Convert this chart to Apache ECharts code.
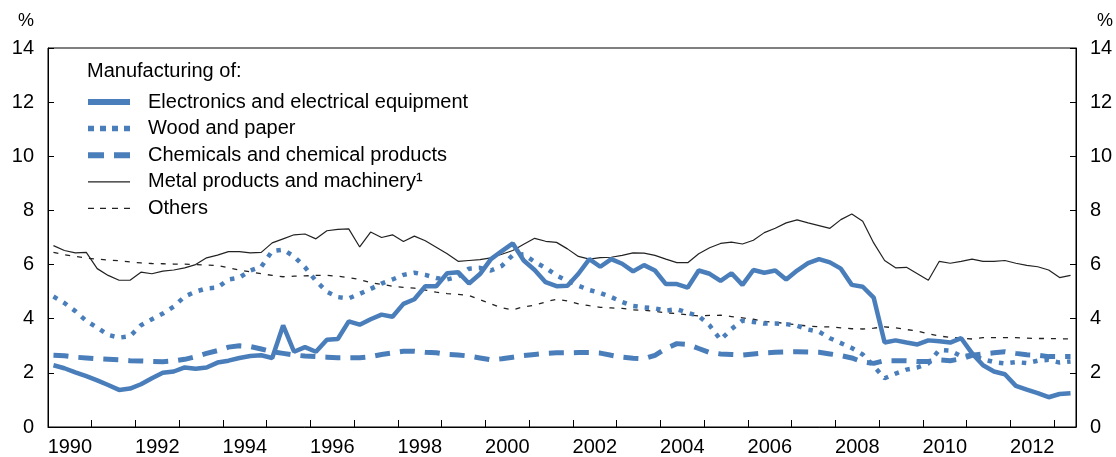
<!DOCTYPE html>
<html><head><meta charset="utf-8">
<script src="https://cdn.jsdelivr.net/npm/echarts@6/dist/echarts.min.js"></script>
<style>html,body{margin:0;padding:0;background:#fff}#chart{width:1116px;height:457px}</style>
</head><body><div id="chart"></div>
<script>
// Quarterly categories 1990Q1 .. 2013Q2
const quarters = [];
for (let y = 1990; y <= 2013; y++) for (let q = 1; q <= 4; q++) if (quarters.length < 94) quarters.push(y + 'Q' + q);

const xTickLabels = ['1990','1992','1994','1996','1998','2000','2002','2004','2006','2008','2010','2012'];
const yTickLabels = ['0','2','4','6','8','10','12','14'];
const seriesNames = ['Electronics and electrical equipment','Wood and paper','Chemicals and chemical products','Metal products and machinery\u00b9','Others'];

const electronics = [2.28,2.17,2.02,1.88,1.72,1.55,1.37,1.42,1.58,1.8,2.0,2.05,2.2,2.15,2.2,2.38,
2.45,2.55,2.62,2.65,2.55,3.75,2.78,2.95,2.78,3.22,3.25,3.9,3.78,3.98,4.15,4.07,
4.55,4.72,5.2,5.2,5.68,5.72,5.3,5.65,6.2,6.5,6.78,6.15,5.8,5.35,5.2,5.22,
5.66,6.2,5.92,6.2,6.03,5.75,5.98,5.78,5.28,5.28,5.15,5.78,5.66,5.4,5.68,5.25,
5.8,5.7,5.78,5.45,5.78,6.05,6.2,6.08,5.85,5.25,5.18,4.78,3.12,3.2,3.12,3.05,
3.2,3.17,3.12,3.28,2.72,2.28,2.05,1.95,1.52,1.38,1.25,1.1,1.22,1.25];

const wood = [4.82,4.58,4.28,3.92,3.67,3.4,3.3,3.35,3.76,3.98,4.19,4.45,4.82,5.0,5.12,5.15,
5.45,5.52,5.78,5.92,6.5,6.55,6.3,5.9,5.4,5.0,4.8,4.75,4.92,5.1,5.3,5.45,
5.62,5.7,5.62,5.5,5.45,5.55,5.85,5.88,5.78,5.95,6.35,6.38,6.1,5.88,5.6,5.4,
5.22,5.06,4.95,4.8,4.62,4.47,4.42,4.38,4.3,4.35,4.22,4.1,3.75,3.22,3.62,3.93,
3.88,3.82,3.82,3.8,3.74,3.6,3.52,3.28,3.1,2.92,2.68,2.25,1.8,1.97,2.12,2.2,
2.35,2.85,2.82,2.62,2.66,2.5,2.4,2.35,2.4,2.36,2.45,2.48,2.38,2.42];

const chemicals = [2.65,2.63,2.58,2.55,2.52,2.5,2.48,2.45,2.44,2.42,2.41,2.44,2.5,2.6,2.72,2.82,
2.95,3.0,2.97,2.88,2.78,2.72,2.66,2.62,2.6,2.58,2.56,2.56,2.56,2.6,2.68,2.74,
2.8,2.8,2.76,2.74,2.68,2.66,2.62,2.55,2.48,2.52,2.58,2.64,2.68,2.72,2.74,2.74,
2.75,2.75,2.73,2.65,2.58,2.54,2.52,2.65,2.9,3.08,3.05,2.9,2.75,2.7,2.68,2.66,
2.7,2.74,2.76,2.77,2.78,2.77,2.76,2.7,2.64,2.55,2.4,2.35,2.45,2.45,2.45,2.42,
2.42,2.48,2.45,2.52,2.65,2.7,2.74,2.78,2.72,2.67,2.65,2.6,2.6,2.6];

const metal = [6.7,6.52,6.43,6.45,5.85,5.6,5.42,5.42,5.72,5.66,5.76,5.8,5.88,6.0,6.25,6.35,
6.48,6.48,6.43,6.45,6.8,6.95,7.1,7.13,6.95,7.25,7.3,7.32,6.65,7.2,7.0,7.1,
6.85,7.05,6.88,6.64,6.4,6.12,6.15,6.18,6.25,6.38,6.52,6.75,6.97,6.86,6.82,6.58,
6.3,6.2,6.26,6.27,6.34,6.43,6.42,6.34,6.2,6.07,6.07,6.4,6.62,6.78,6.83,6.76,
6.9,7.18,7.34,7.54,7.65,7.54,7.44,7.34,7.66,7.87,7.6,6.8,6.15,5.88,5.9,5.66,
5.42,6.12,6.05,6.12,6.2,6.12,6.12,6.15,6.05,5.97,5.92,5.8,5.52,5.6];

const others = [6.45,6.36,6.3,6.24,6.2,6.17,6.14,6.1,6.06,6.04,6.03,6.02,6.02,6.0,5.98,5.97,
5.88,5.8,5.73,5.66,5.6,5.55,5.57,5.58,5.6,5.6,5.57,5.52,5.45,5.33,5.27,5.2,
5.16,5.13,5.06,4.98,4.93,4.9,4.86,4.7,4.55,4.4,4.33,4.44,4.5,4.62,4.72,4.66,
4.55,4.48,4.42,4.4,4.38,4.33,4.31,4.27,4.22,4.19,4.14,4.1,4.12,4.13,4.08,4.03,
3.98,3.9,3.87,3.82,3.77,3.73,3.7,3.7,3.66,3.63,3.62,3.65,3.7,3.66,3.6,3.54,
3.44,3.36,3.31,3.28,3.25,3.3,3.3,3.3,3.3,3.28,3.27,3.27,3.26,3.25];

// position of each quarter on the time axis (middle of the quarter)
const xPos = quarters.map(s => +s.slice(0,4) + (+s.slice(5) - 0.5) / 4);
const pair = arr => arr.map((v, i) => [xPos[i], v]);

const FONT = 'Liberation Sans, Arial, Helvetica, sans-serif';
const BLUE = '#4a7ebb';
const DARK = '#222';

const styles = [
  {color: BLUE, width: 4.5, type: 'solid', lw: 6, ltype: 'solid', z: 5},
  {color: BLUE, width: 4.5, type: [4.5, 7], lw: 5.5, ltype: [6, 6], z: 4},
  {color: BLUE, width: 5, type: [15, 10], lw: 6, ltype: [16, 10], z: 3},
  {color: DARK, width: 1.2, type: 'solid', lw: 1.3, ltype: 'solid', z: 2},
  {color: DARK, width: 1.3, type: [5, 7], lw: 1.3, ltype: [6, 6], z: 2}
];
const seriesData = [electronics, wood, chemicals, metal, others];

const chart = echarts.init(document.getElementById('chart'), null, {renderer: 'canvas'});

const yAxisCommon = {
  type: 'value', min: 0, max: 14, interval: 2,
  axisLine: {show: true, lineStyle: {color: '#000', width: 1}},
  axisTick: {show: true, inside: true, length: 6, lineStyle: {color: '#000'}},
  splitLine: {show: false},
  axisLabel: {fontSize: 20, color: '#000', fontFamily: FONT, margin: 14,
              formatter: v => yTickLabels[Math.round(v / 2)] ?? ''},
  name: '%', nameLocation: 'end', nameGap: 18
};

chart.setOption({
  animation: false,
  backgroundColor: '#fff',
  title: {text: 'Manufacturing of:', left: 87, top: 61, padding: 0,
          textStyle: {fontSize: 20, fontWeight: 'normal', color: '#000', fontFamily: FONT}},
  legend: {
    orient: 'vertical', left: 85, top: 92, padding: 0,
    itemWidth: 42, itemHeight: 14, itemGap: 6.6,
    textStyle: {fontSize: 20, color: '#000', fontFamily: FONT, padding: [0, 0, 0, 13]},
    data: seriesNames.map((n, i) => ({
      name: n,
      itemStyle: {opacity: 0},
      lineStyle: {color: styles[i].color, width: styles[i].lw, type: styles[i].ltype, cap: 'butt'}
    }))
  },
  grid: {left: 48, right: 38, top: 48, bottom: 28, show: true, borderColor: '#000', borderWidth: 1, containLabel: false},
  xAxis: [
    {type: 'value', min: 1990, max: 2013.5, interval: 1, position: 'bottom',
     axisLine: {show: true, lineStyle: {color: '#000'}},
     axisTick: {show: true, inside: true, length: 7, lineStyle: {color: '#000'}},
     axisLabel: {show: false}, splitLine: {show: false}},
    {type: 'value', min: 1990, max: 2013.5, interval: 0.5, position: 'bottom',
     axisLine: {show: false}, axisTick: {show: false}, splitLine: {show: false},
     axisLabel: {fontSize: 20, color: '#000', fontFamily: FONT, margin: 10,
       formatter: v => {
         const yr = Math.floor(v + 1e-9);
         if (Math.abs(v - yr - 0.5) < 1e-6 && xTickLabels.includes(String(yr))) return String(yr);
         return '';
       }}}
  ],
  yAxis: [
    Object.assign({}, yAxisCommon, {position: 'left',
      nameTextStyle: {fontSize: 18, color: '#000', fontFamily: FONT, align: 'right', padding: [0, 14, 0, 0]}}),
    Object.assign({}, yAxisCommon, {position: 'right',
      nameTextStyle: {fontSize: 18, color: '#000', fontFamily: FONT, align: 'left', padding: [0, 0, 0, 21]}})
  ],
  series: seriesNames.map((n, i) => ({
    name: n, type: 'line', data: pair(seriesData[i]),
    symbol: 'none', showSymbol: false,
    lineStyle: {color: styles[i].color, width: styles[i].width, type: styles[i].type},
    itemStyle: {color: styles[i].color},
    z: styles[i].z
  }))
});
</script></body></html>
